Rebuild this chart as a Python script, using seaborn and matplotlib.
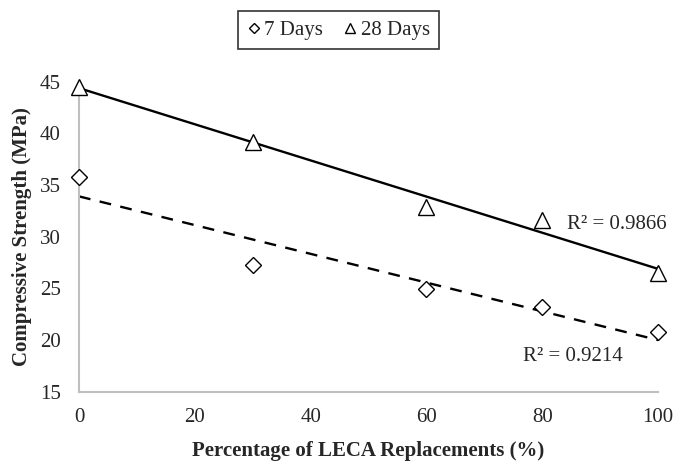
import numpy as np
import pandas as pd
import matplotlib
matplotlib.use("Agg")
import matplotlib.pyplot as plt
from matplotlib.lines import Line2D
import seaborn as sns

# ---- data ----
replacement = [0, 30, 60, 80, 100]
strength_7 = [35.8, 27.3, 24.9, 23.2, 20.8]
strength_28 = [44.5, 39.2, 32.9, 31.6, 26.5]
series_names = ["7 Days", "28 Days"]
r2_labels = ["R² = 0.9214", "R² = 0.9866"]
x_ticks = [0, 20, 40, 60, 80, 100]
y_ticks = [15, 20, 25, 30, 35, 40, 45]

sns.set_theme(style="white")
plt.rcParams["font.family"] = ["Liberation Serif", "DejaVu Serif"]

FS = 15

fig = plt.figure(figsize=(6.75, 4.62), dpi=100)
ax = fig.add_axes([0.117, 0.152, 0.858, 0.671])

df7 = pd.DataFrame({"x": replacement, "y": strength_7})
df28 = pd.DataFrame({"x": replacement, "y": strength_28})

# trend lines
sns.regplot(data=df28, x="x", y="y", ci=None, scatter=False, ax=ax,
            line_kws=dict(color="black", lw=1.7, ls="-"))
sns.regplot(data=df7, x="x", y="y", ci=None, scatter=False, ax=ax,
            line_kws=dict(color="black", lw=1.7, ls=(0, (5, 4))))

# markers
ax.plot(df7["x"], df7["y"], ls="none", marker="D", ms=8.5, mfc="white",
        mec="black", mew=1.0, zorder=5, clip_on=False)
ax.plot(df28["x"], df28["y"], ls="none", marker="^", ms=12, mfc="white",
        mec="black", mew=1.0, zorder=5, clip_on=False)

ax.set_xlim(0, 100)
ax.set_ylim(15, 45)
ax.set_xticks(x_ticks)
ax.set_yticks(y_ticks)
ax.tick_params(axis="both", labelsize=FS, length=0)
ax.tick_params(axis="y", pad=13)
ax.tick_params(axis="x", pad=12)

for s in ["top", "right"]:
    ax.spines[s].set_visible(False)
for s in ["left", "bottom"]:
    ax.spines[s].set_color("#bfbfbf")
    ax.spines[s].set_linewidth(1.5)

ax.set_xlabel("Percentage of LECA Replacements (%)", fontsize=FS,
              fontweight="bold", labelpad=10)
ax.set_ylabel("Compressive Strength (MPa)", fontsize=FS,
              fontweight="bold", labelpad=6)

ax.text(84.3, 31.2, r2_labels[1], fontsize=FS, ha="left", va="center")
ax.text(76.7, 18.4, r2_labels[0], fontsize=FS, ha="left", va="center")

handles = [
    Line2D([], [], ls="none", marker="D", ms=5.5, mfc="white", mec="black", mew=1.0),
    Line2D([], [], ls="none", marker="^", ms=7, mfc="white", mec="black", mew=1.0),
]
leg = fig.legend(handles, series_names, loc="center", bbox_to_anchor=(0.502, 0.935),
                 ncol=2, fontsize=FS, frameon=True, fancybox=False,
                 handlelength=0.6, handletextpad=0.2, columnspacing=1.0,
                 borderpad=0.45, edgecolor="black")
leg.get_frame().set_linewidth(1.2)

fig.savefig("out.png", dpi=100)
